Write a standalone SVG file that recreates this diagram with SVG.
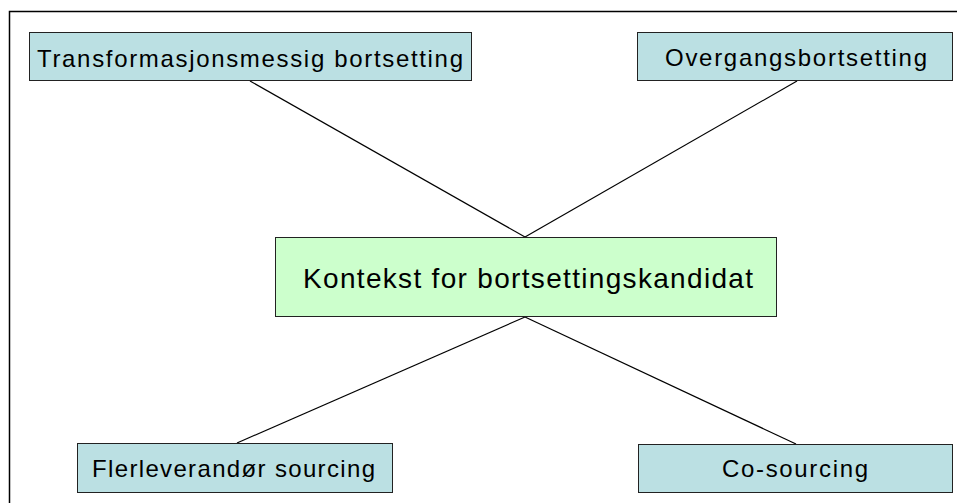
<svg xmlns="http://www.w3.org/2000/svg" width="957" height="503" viewBox="0 0 957 503">
<style>
.box{fill:#BBE0E3;stroke:#222;stroke-width:1}
.ctr{fill:#CCFFCC;stroke:#222;stroke-width:1}
.t{font-family:"Liberation Sans",Arial,sans-serif;font-size:24px;fill:#000;text-anchor:middle}
.tc{font-family:"Liberation Sans",Arial,sans-serif;font-size:28px;fill:#000;text-anchor:middle}
.ln{stroke:#000;stroke-width:1.2;fill:none}
</style>
<rect width="957" height="503" fill="#fff"/>
<path d="M9.5,503 V11.5 H957" fill="none" stroke="#000" stroke-width="1.5"/>
<g id="connectors">
<line class="ln" x1="250" y1="81" x2="525" y2="237"/>
<line class="ln" x1="797" y1="81" x2="525" y2="237"/>
<line class="ln" x1="525" y1="317" x2="237" y2="443"/>
<line class="ln" x1="525" y1="317" x2="796" y2="444"/>
</g>
<g id="n1">
<rect class="box" x="29.5" y="32.5" width="442" height="48"/>
<text class="t" x="250" y="67" textLength="426" lengthAdjust="spacing">Transformasjonsmessig bortsetting</text>
</g>
<g id="n2">
<rect class="box" x="637.5" y="32.5" width="315" height="48"/>
<text class="t" x="796" y="66" textLength="262" lengthAdjust="spacing">Overgangsbortsetting</text>
</g>
<g id="center">
<rect class="ctr" x="275.5" y="237.5" width="501" height="79"/>
<text class="tc" x="528" y="288" textLength="450" lengthAdjust="spacing">Kontekst for bortsettingskandidat</text>
</g>
<g id="n3">
<rect class="box" x="77.5" y="443.5" width="315" height="49"/>
<text class="t" x="233.5" y="477" textLength="283" lengthAdjust="spacing">Flerleverandør sourcing</text>
</g>
<g id="n4">
<rect class="box" x="638.5" y="444.5" width="314" height="48"/>
<text class="t" x="795" y="477" textLength="146" lengthAdjust="spacing">Co-sourcing</text>
</g>
</svg>
